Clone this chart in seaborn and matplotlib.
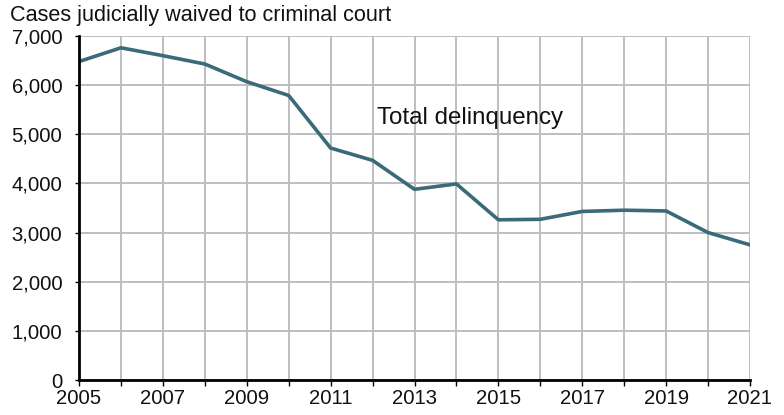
import matplotlib
matplotlib.use("Agg")
import matplotlib.pyplot as plt
import seaborn as sns
import pandas as pd

years = list(range(2005, 2022))
cases = [6480, 6760, 6600, 6430, 6070, 5790, 4720, 4470, 3880, 3990,
         3260, 3270, 3430, 3455, 3440, 3000, 2750]
year_labels = [str(y) for y in range(2005, 2022, 2)]
y_ticks = list(range(0, 7001, 1000))

sns.set_theme(style="white")
plt.rcParams["font.family"] = ["Liberation Sans", "DejaVu Sans"]

df = pd.DataFrame({"year": years, "cases": cases})

fig = plt.figure(figsize=(7.84, 4.15), dpi=100)
ax = fig.add_axes([79 / 784, 1 - 380 / 415, (750 - 79) / 784, (380 - 36) / 415])

sns.lineplot(data=df, x="year", y="cases", ax=ax, color="#3b6a7a",
             linewidth=2.6, zorder=3)

ax.set_xlim(2005, 2021)
ax.set_ylim(0, 7000)
ax.set_xticks(years)
ax.set_xticklabels([str(y) if str(y) in year_labels else "" for y in years])
ax.set_yticks(y_ticks)
ax.set_yticklabels([f"{v:,}" for v in y_ticks])

ax.grid(True, color="#bcbec0", linewidth=1.4, zorder=0)
ax.set_axisbelow(True)
for side in ("top", "right"):
    ax.spines[side].set_visible(False)
for side in ("left", "bottom"):
    ax.spines[side].set_color("black")
    ax.spines[side].set_linewidth(2)
    ax.spines[side].set_zorder(4)

ax.tick_params(axis="both", which="both", direction="out", width=1,
               color="black", labelsize=14.6, labelcolor="#111111",
               left=True, bottom=True)
ax.tick_params(axis="x", length=4.5, pad=2)
ax.tick_params(axis="y", length=3, pad=9)
for lbl in ax.get_yticklabels():
    lbl.set_verticalalignment("center_baseline")
ax.set_xlabel("")
ax.set_ylabel("")

ax.text(2012.1, 5330, "Total delinquency", fontsize=17.4, ha="left",
        va="center", color="#111111")
fig.text(10 / 784, 1 - 16 / 415, "Cases judicially waived to criminal court",
         fontsize=15.6, ha="left", va="center", color="#111111")

fig.savefig("out.png", dpi=100)
